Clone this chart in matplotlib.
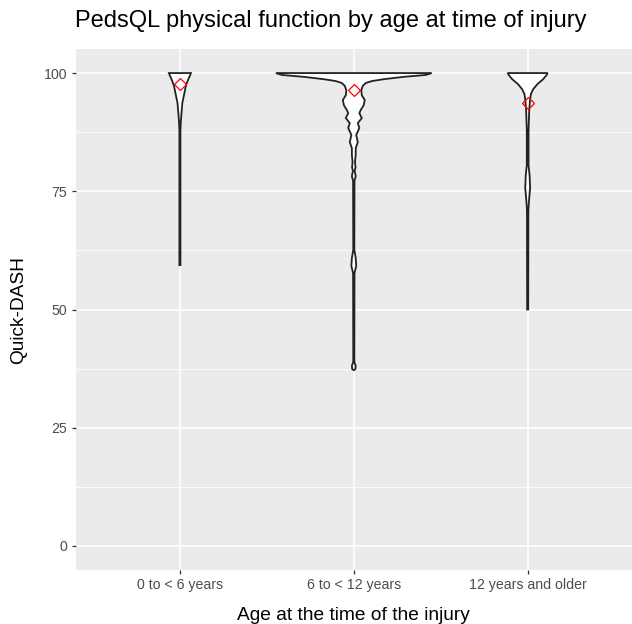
import numpy as np
import matplotlib
matplotlib.use("Agg")
import matplotlib.pyplot as plt


# =====================================================
# DATA (violin outlines)
# =====================================================

categories = ["0 to < 6 years", "6 to < 12 years", "12 years and older"]

# score levels and violin half-widths (in category units)
young_scores = [100.0, 99.4, 98.5, 97.3, 95.8, 93.7, 91.5, 89.6, 87.9, 59.4]
young_half = [0.063, 0.057, 0.046, 0.034, 0.026, 0.014, 0.009, 0.005, 0.003, 0.003]

mid_scores = [100.0, 99.6, 99.2, 98.7, 98.3, 97.9, 97.3, 96.4, 95.3, 94.3,
              93.2, 92.2, 91.5, 90.5, 89.4, 88.4, 86.9, 85.4, 84.1, 82.7,
              81.2, 80.1, 79.3, 78.2, 77.2, 62.6, 60.9, 59.2, 57.7, 38.9,
              38.1, 37.4, 37.2]
mid_half = [0.448, 0.414, 0.287, 0.172, 0.103, 0.069, 0.052, 0.043, 0.046, 0.063,
            0.057, 0.040, 0.032, 0.046, 0.023, 0.032, 0.014, 0.023, 0.011, 0.011,
            0.007, 0.010, 0.005, 0.011, 0.004, 0.003, 0.011, 0.014, 0.004, 0.003,
            0.011, 0.009, 0.002]

old_scores = [100.0, 99.6, 98.7, 97.7, 96.6, 95.6, 94.5, 92.2, 87.9, 80.5,
              78.4, 75.7, 73.2, 71.0, 50.0]
old_half = [0.115, 0.109, 0.089, 0.057, 0.032, 0.019, 0.014, 0.009, 0.005, 0.005,
            0.011, 0.014, 0.008, 0.004, 0.003]

means = [97.7, 96.5, 93.7]

profiles = [
    (young_scores, young_half),
    (mid_scores, mid_half),
    (old_scores, old_half),
]


# =====================================================
# FIGURE
# =====================================================

plt.rcParams["font.family"] = ["Liberation Sans", "DejaVu Sans"]

fig = plt.figure(figsize=(6.32, 6.24), dpi=100)
ax = fig.add_axes([0.1196, 0.0872, 0.8804, 0.8336])

ax.set_facecolor("#EBEBEB")
for side in ax.spines.values():
    side.set_visible(False)

ax.set_yticks([0, 25, 50, 75, 100])
ax.set_yticks([12.5, 37.5, 62.5, 87.5], minor=True)
ax.set_xticks([1, 2, 3])
ax.set_xticklabels(categories)

ax.grid(True, which="major", color="white", linewidth=1.2)
ax.grid(True, which="minor", axis="y", color="white", linewidth=0.6)
ax.set_axisbelow(True)

ax.tick_params(which="major", length=3, width=0.9, color="#333333",
               labelcolor="#4D4D4D", labelsize=10.2, pad=3)
ax.tick_params(which="minor", length=0)


# =====================================================
# VIOLINS + MEANS
# =====================================================

for i, (scores, half) in enumerate(profiles):
    centre = i + 1
    s = np.array(scores)
    h = np.array(half)
    xs = np.concatenate([centre + h, (centre - h)[::-1]])
    ys = np.concatenate([s, s[::-1]])
    ax.fill(xs, ys, facecolor="white", edgecolor="#222222",
            linewidth=1.3, zorder=2)

ax.plot([1, 2, 3], means, linestyle="none", marker="D", markersize=6,
        markerfacecolor="none", markeredgecolor="red",
        markeredgewidth=0.9, zorder=3)

ax.set_xlim(0.4, 3.6)
ax.set_ylim(-5, 105)


# =====================================================
# LABELS
# =====================================================

fig.text(0.119, 0.966, "PedsQL physical function by age at time of injury",
         fontsize=17, ha="left", va="center", color="black")

ax.set_xlabel("Age at the time of the injury", fontsize=13.8, labelpad=11)
ax.set_ylabel("Quick-DASH", fontsize=13.8, labelpad=12)

plt.savefig("out.png", dpi=100)
plt.close()
